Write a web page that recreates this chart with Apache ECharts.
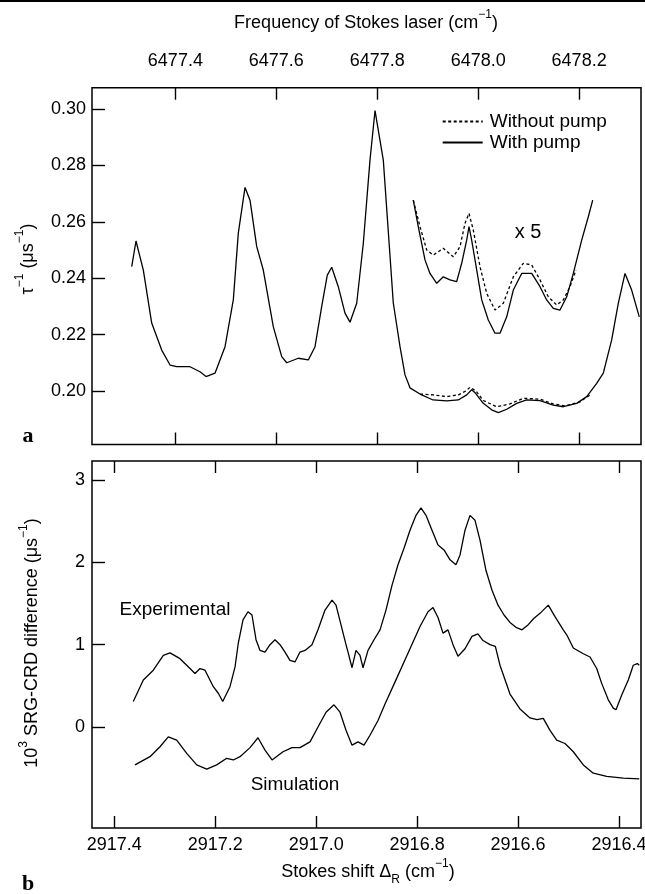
<!DOCTYPE html>
<html>
<head>
<meta charset="utf-8">
<script src="https://cdn.jsdelivr.net/npm/echarts@6.0.0/dist/echarts.min.js"></script>
<style>
  html, body { margin: 0; padding: 0; background: #fff; }
  #main { width: 645px; height: 894px; }
</style>
</head>
<body>
<div id="main"></div>
<script>
// two stacked panels: (a) ring-down rate, (b) SRG-CRD difference
var FONT = '"Liberation Sans", Arial, Helvetica, sans-serif';

// pump wavenumber: Stokes frequency = PUMP - Stokes shift
var PUMP = 9394.679;
var SHIFT_MIN = 2916.3564, SHIFT_MAX = 2917.4442;

var freqTicks = [6477.4, 6477.6, 6477.8, 6478.0, 6478.2];
var shiftTicks = [2917.4, 2917.2, 2917.0, 2916.8, 2916.6, 2916.4];
var tauTicks = [0.20, 0.22, 0.24, 0.26, 0.28, 0.30];
var diffTicks = [0, 1, 2, 3];

// panel a, [Stokes shift, 1/tau]
var withPump = [
  [2917.3655, 0.2441], [2917.3570, 0.2532], [2917.3425, 0.2429], [2917.3259, 0.2241],
  [2917.3061, 0.2145], [2917.2896, 0.2092], [2917.2764, 0.2086], [2917.2500, 0.2086],
  [2917.2302, 0.2068], [2917.2183, 0.2051], [2917.2005, 0.2063], [2917.1806, 0.2157],
  [2917.1642, 0.2323], [2917.1543, 0.2560], [2917.1410, 0.2722], [2917.1311, 0.2677],
  [2917.1178, 0.2512], [2917.1048, 0.2429], [2917.0850, 0.2228], [2917.0683, 0.2122],
  [2917.0584, 0.2100], [2917.0354, 0.2116], [2917.0156, 0.2110], [2917.0023, 0.2157],
  [2916.9891, 0.2299], [2916.9780, 0.2411], [2916.9692, 0.2439], [2916.9562, 0.2370],
  [2916.9429, 0.2276], [2916.9330, 0.2244], [2916.9197, 0.2311], [2916.9066, 0.2524],
  [2916.8934, 0.2819], [2916.8834, 0.2995], [2916.8670, 0.2819], [2916.8472, 0.2312],
  [2916.8339, 0.2157], [2916.8240, 0.2057], [2916.8141, 0.2011], [2916.7943, 0.1989],
  [2916.7685, 0.1968], [2916.7414, 0.1965], [2916.7184, 0.1968], [2916.7018, 0.1986],
  [2916.6919, 0.2004], [2916.6853, 0.1994], [2916.6689, 0.1956], [2916.6522, 0.1933],
  [2916.6391, 0.1923], [2916.6225, 0.1935], [2916.6027, 0.1956], [2916.5829, 0.1968],
  [2916.5565, 0.1966], [2916.5302, 0.1950], [2916.5104, 0.1944], [2916.4838, 0.1956],
  [2916.4640, 0.1980], [2916.4442, 0.2027], [2916.4311, 0.2063], [2916.4145, 0.2181],
  [2916.4014, 0.2311], [2916.3881, 0.2417], [2916.3749, 0.2358], [2916.3598, 0.2263]
];
// without pump only differs from withPump in this range
var withoutPump = [
  [2916.7943, 0.1989], [2916.7685, 0.1986], [2916.7414, 0.1980], [2916.7184, 0.1986],
  [2916.7032, 0.2000], [2916.6953, 0.2013], [2916.6834, 0.2000], [2916.6689, 0.1966],
  [2916.6423, 0.1944], [2916.6160, 0.1954], [2916.5896, 0.1974], [2916.5565, 0.1971],
  [2916.5302, 0.1954], [2916.5071, 0.1947], [2916.4773, 0.1961], [2916.4575, 0.1986]
];
// x 5 magnified traces
var withPumpX5 = [
  [2916.8076, 0.2677], [2916.7977, 0.2583], [2916.7844, 0.2465], [2916.7745, 0.2417],
  [2916.7612, 0.2382], [2916.7481, 0.2405], [2916.7349, 0.2394], [2916.7216, 0.2388],
  [2916.7117, 0.2453], [2916.7018, 0.2535], [2916.6972, 0.2583], [2916.6919, 0.2535],
  [2916.6819, 0.2429], [2916.6720, 0.2323], [2916.6590, 0.2252], [2916.6457, 0.2205],
  [2916.6358, 0.2205], [2916.6225, 0.2263], [2916.6094, 0.2358], [2916.5928, 0.2417],
  [2916.5730, 0.2417], [2916.5565, 0.2370], [2916.5433, 0.2323], [2916.5302, 0.2293],
  [2916.5169, 0.2287], [2916.5036, 0.2334], [2916.4905, 0.2417], [2916.4739, 0.2535],
  [2916.4608, 0.2618], [2916.4521, 0.2677]
];
var withoutPumpX5 = [
  [2916.8076, 0.2677], [2916.7943, 0.2583], [2916.7810, 0.2500], [2916.7679, 0.2482],
  [2916.7481, 0.2506], [2916.7283, 0.2476], [2916.7150, 0.2512], [2916.7051, 0.2595],
  [2916.6972, 0.2630], [2916.6887, 0.2571], [2916.6754, 0.2441], [2916.6621, 0.2346],
  [2916.6457, 0.2287], [2916.6292, 0.2311], [2916.6094, 0.2405], [2916.5896, 0.2453],
  [2916.5730, 0.2447], [2916.5565, 0.2394], [2916.5401, 0.2334], [2916.5234, 0.2305],
  [2916.5104, 0.2323], [2916.4971, 0.2370], [2916.4852, 0.2429]
];

// panel b, [Stokes shift, 10^3 difference]
var experimental = [
  [2917.3624, 0.31], [2917.3425, 0.57], [2917.3227, 0.69], [2917.3029, 0.87],
  [2917.2896, 0.90], [2917.2698, 0.83], [2917.2500, 0.71], [2917.2401, 0.65],
  [2917.2302, 0.71], [2917.2203, 0.69], [2917.2038, 0.49], [2917.1939, 0.41],
  [2917.1852, 0.31], [2917.1708, 0.49], [2917.1608, 0.73], [2917.1543, 1.02],
  [2917.1450, 1.30], [2917.1351, 1.40], [2917.1272, 1.36], [2917.1192, 1.06],
  [2917.1113, 0.93], [2917.1014, 0.91], [2917.0915, 1.00], [2917.0816, 1.06],
  [2917.0717, 1.00], [2917.0618, 0.91], [2917.0519, 0.81], [2917.0420, 0.79],
  [2917.0321, 0.91], [2917.0221, 0.93], [2917.0083, 1.00], [2916.9964, 1.18],
  [2916.9825, 1.42], [2916.9686, 1.54], [2916.9607, 1.48], [2916.9508, 1.24],
  [2916.9409, 1.00], [2916.9369, 0.91], [2916.9290, 0.72], [2916.9211, 0.93],
  [2916.9132, 0.87], [2916.9072, 0.72], [2916.8973, 0.93], [2916.8854, 1.06],
  [2916.8735, 1.18], [2916.8617, 1.42], [2916.8498, 1.72], [2916.8379, 1.97],
  [2916.8260, 2.17], [2916.8141, 2.39], [2916.8022, 2.57], [2916.7923, 2.66],
  [2916.7824, 2.57], [2916.7705, 2.39], [2916.7586, 2.21], [2916.7467, 2.15],
  [2916.7348, 2.03], [2916.7230, 1.97], [2916.7150, 2.09], [2916.7051, 2.39],
  [2916.6952, 2.57], [2916.6853, 2.51], [2916.6754, 2.27], [2916.6635, 1.90],
  [2916.6516, 1.66], [2916.6397, 1.48], [2916.6278, 1.36], [2916.6160, 1.27],
  [2916.6041, 1.21], [2916.5922, 1.18], [2916.5803, 1.24], [2916.5684, 1.32],
  [2916.5565, 1.38], [2916.5401, 1.48], [2916.5268, 1.34], [2916.5104, 1.18],
  [2916.5036, 1.12], [2916.4905, 0.96], [2916.4707, 0.89], [2916.4574, 0.85],
  [2916.4442, 0.71], [2916.4343, 0.53], [2916.4212, 0.33], [2916.4113, 0.23],
  [2916.4059, 0.21], [2916.3946, 0.39], [2916.3816, 0.57], [2916.3717, 0.75],
  [2916.3637, 0.77], [2916.3598, 0.75]
];
var simulation = [
  [2917.3590, -0.46], [2917.3293, -0.36], [2917.3095, -0.24], [2917.2930, -0.12],
  [2917.2764, -0.16], [2917.2565, -0.32], [2917.2367, -0.46], [2917.2169, -0.51],
  [2917.1971, -0.46], [2917.1773, -0.38], [2917.1642, -0.40], [2917.1509, -0.36],
  [2917.1311, -0.25], [2917.1153, -0.13], [2917.1014, -0.28], [2917.0875, -0.40],
  [2917.0657, -0.30], [2917.0479, -0.25], [2917.0321, -0.25], [2917.0122, -0.18],
  [2916.9964, 0.00], [2916.9805, 0.18], [2916.9647, 0.27], [2916.9528, 0.18],
  [2916.9409, -0.04], [2916.9290, -0.22], [2916.9171, -0.18], [2916.9052, -0.22],
  [2916.8934, -0.10], [2916.8775, 0.08], [2916.8636, 0.28], [2916.8399, 0.60],
  [2916.8141, 0.95], [2916.7943, 1.22], [2916.7784, 1.40], [2916.7685, 1.45],
  [2916.7586, 1.33], [2916.7487, 1.14], [2916.7388, 1.18], [2916.7289, 1.00],
  [2916.7190, 0.86], [2916.7051, 0.95], [2916.6913, 1.10], [2916.6794, 1.13],
  [2916.6695, 1.05], [2916.6556, 1.00], [2916.6450, 0.98], [2916.6358, 0.75],
  [2916.6160, 0.40], [2916.5962, 0.22], [2916.5763, 0.11], [2916.5625, 0.09],
  [2916.5500, 0.105], [2916.5367, -0.04], [2916.5234, -0.16], [2916.5070, -0.20],
  [2916.4905, -0.30], [2916.4707, -0.46], [2916.4509, -0.56], [2916.4244, -0.60],
  [2916.3915, -0.62], [2916.3598, -0.63]
];

var chart = echarts.init(document.getElementById('main'));

function tickAxis(extra) {
  var base = {
    type: 'value',
    axisLine: { show: false, onZero: false },
    splitLine: { show: false },
    axisTick: { show: true, inside: true, length: 12, lineStyle: { color: '#000', width: 1.4 } },
    axisLabel: { show: false, color: '#000', fontSize: 18, fontFamily: FONT }
  };
  return echarts.util.merge(base, extra, true);
}

function line(name, data, xi, yi, dashed) {
  return {
    name: name, type: 'line', data: data,
    xAxisIndex: xi, yAxisIndex: yi,
    symbol: 'none', showSymbol: false, silent: true,
    lineStyle: { color: '#000', width: 1.3, type: dashed ? [3, 2.5] : 'solid' },
    itemStyle: { color: '#000' }
  };
}

var supRich = {
  t: { fontSize: 18, fontFamily: FONT, lineHeight: 28, fill: '#000' },
  s: { fontSize: 12, fontFamily: FONT, lineHeight: 12, verticalAlign: 'top', fill: '#000' },
  b: { fontSize: 12, fontFamily: FONT, lineHeight: 12, verticalAlign: 'bottom', fill: '#000' }
};

function label(x, y, text, rot) {
  return {
    type: 'text', x: x, y: y, rotation: rot || 0,
    style: { text: text, rich: supRich, align: 'center', verticalAlign: 'middle', fill: '#000' }
  };
}

var option = {
  animation: false,
  backgroundColor: '#fff',
  grid: [
    { left: 92, top: 87.7, width: 549, height: 356.8, show: true, borderColor: '#000', borderWidth: 1.5,
      containLabel: false, outerBoundsMode: 'none' },
    { left: 92, top: 461, width: 549, height: 367, show: true, borderColor: '#000', borderWidth: 1.5,
      containLabel: false, outerBoundsMode: 'none' }
  ],
  xAxis: [
    { type: 'value', gridIndex: 0, inverse: true, min: SHIFT_MIN, max: SHIFT_MAX, show: false,
      axisLine: { onZero: false } },
    tickAxis({
      gridIndex: 0, position: 'top', min: PUMP - SHIFT_MAX, max: PUMP - SHIFT_MIN,
      axisTick: { customValues: freqTicks },
      axisLabel: { show: true, customValues: freqTicks, margin: 18,
        formatter: function (v) { return v.toFixed(1); } }
    }),
    tickAxis({
      gridIndex: 0, position: 'bottom', min: PUMP - SHIFT_MAX, max: PUMP - SHIFT_MIN,
      axisTick: { customValues: freqTicks }
    }),
    tickAxis({
      gridIndex: 1, position: 'bottom', inverse: true, min: SHIFT_MIN, max: SHIFT_MAX,
      axisTick: { customValues: shiftTicks },
      axisLabel: { show: true, customValues: shiftTicks, margin: 8,
        formatter: function (v) { return v.toFixed(1); } }
    }),
    tickAxis({
      gridIndex: 1, position: 'top', inverse: true, min: SHIFT_MIN, max: SHIFT_MAX,
      axisTick: { customValues: shiftTicks }
    })
  ],
  yAxis: [
    tickAxis({
      gridIndex: 0, min: 0.181, max: 0.3076,
      axisTick: { customValues: tauTicks, length: 13 },
      axisLabel: { show: true, customValues: tauTicks, margin: 6,
        formatter: function (v) { return v.toFixed(2); } }
    }),
    tickAxis({
      gridIndex: 1, min: -1.226, max: 3.23,
      axisTick: { customValues: diffTicks, length: 13 },
      axisLabel: { show: true, customValues: diffTicks, margin: 7,
        formatter: function (v) { return String(v); } }
    })
  ],
  legend: {
    data: ['Without pump', 'With pump'],
    orient: 'vertical', left: 441.7, top: 111, padding: 0,
    itemWidth: 40, itemHeight: 14, itemGap: 0,
    selectedMode: false,
    itemStyle: { opacity: 0 },
    textStyle: { color: '#000', fontSize: 19, fontFamily: FONT, lineHeight: 21, padding: [0, 0, 0, 2] }
  },
  graphic: [
    { type: 'rect', shape: { x: 0, y: 0, width: 645, height: 2 }, style: { fill: '#000' } },
    label(366, 23, '{t|Frequency of Stokes laser (cm}{s|−1}{t|)}'),
    label(368, 872, '{t|Stokes shift Δ}{b|R}{t| (cm}{s|−1}{t|)}'),
    label(28, 259, '{t|τ}{s|−1}{t| (μs}{s|−1}{t|)}', Math.PI / 2),
    label(32, 643, '{t|10}{s|3}{t| SRG-CRD difference (μs}{s|−1}{t|)}', Math.PI / 2),
    { type: 'text', x: 28, y: 436, style: { text: 'a', fill: '#000', align: 'center', verticalAlign: 'middle',
      font: 'bold 22px "Liberation Serif", "DejaVu Serif", serif' } },
    { type: 'text', x: 28, y: 884, style: { text: 'b', fill: '#000', align: 'center', verticalAlign: 'middle',
      font: 'bold 22px "Liberation Serif", "DejaVu Serif", serif' } },
    { type: 'text', x: 528, y: 232, style: { text: 'x 5', fill: '#000', align: 'center', verticalAlign: 'middle',
      font: '20px ' + FONT } },
    { type: 'text', x: 175, y: 610, style: { text: 'Experimental', fill: '#000', align: 'center', verticalAlign: 'middle',
      font: '19px ' + FONT } },
    { type: 'text', x: 295, y: 785, style: { text: 'Simulation', fill: '#000', align: 'center', verticalAlign: 'middle',
      font: '19px ' + FONT } }
  ],
  series: [
    line('With pump', withPump, 0, 0, false),
    line('Without pump', withoutPump, 0, 0, true),
    line('With pump x5', withPumpX5, 0, 0, false),
    line('Without pump x5', withoutPumpX5, 0, 0, true),
    line('Experimental', experimental, 3, 1, false),
    line('Simulation', simulation, 3, 1, false)
  ]
};

chart.setOption(option);
</script>
</body>
</html>
